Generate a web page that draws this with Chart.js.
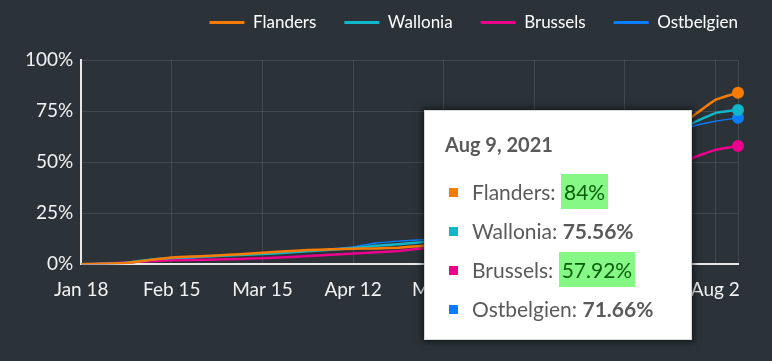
<!DOCTYPE html>
<html>
<head>
<meta charset="utf-8">
<script src="https://cdn.jsdelivr.net/npm/chart.js@4.4.0/dist/chart.umd.min.js"></script>
<style>
  html, body { margin: 0; padding: 0; background: #2b3339; }
  #wrap { position: relative; width: 772px; height: 361px; }
  #tip {
    position: absolute; left: 424px; top: 110px; width: 268px; height: 230px;
    box-sizing: border-box; background: #fff; border: 1px solid #d8d8d8;
    box-shadow: 0 0 6px 2px rgba(0,0,0,0.55);
    font-family: Lato, sans-serif; color: #5a5a5a;
    padding: 21px 0 0 20px; display: none;
  }
  #tip .ttl { font-size: 20px; font-weight: bold; line-height: 24px; margin-bottom: 16px; }
  #tip .row { font-size: 21px; line-height: 39px; height: 39px; padding-left: 4px; white-space: nowrap; }
  #tip .sq { display: inline-block; width: 9px; height: 9px; margin-right: 14px; vertical-align: 3px; }
  #tip .val { font-weight: bold; }
  #tip .hl { font-weight: normal; color: #0b5e0b; background: #86f886; padding: 5px 3px; }
</style>
</head>
<body>
<div id="wrap"><canvas id="chart"></canvas><div id="tip"></div></div>
<script>
// ── DATA ─────────────────────────────────────────
const weeks = ['Jan 18', 'Jan 25', 'Feb 1', 'Feb 8', 'Feb 15', 'Feb 22', 'Mar 1', 'Mar 8',
  'Mar 15', 'Mar 22', 'Mar 29', 'Apr 5', 'Apr 12', 'Apr 19', 'Apr 26', 'May 3', 'May 10',
  'May 17', 'May 24', 'May 31', 'Jun 7', 'Jun 14', 'Jun 21', 'Jun 28', 'Jul 5', 'Jul 12',
  'Jul 19', 'Jul 26', 'Aug 2', 'Aug 9'];

const flanders   = [0, 0.2, 0.6, 2.0, 3.3, 3.8, 4.3, 4.9, 5.6, 6.3, 6.9, 7.3, 7.6, 7.7, 8.1, 8.9,
  10, 12, 15, 19, 24, 30, 37, 44, 51, 58, 65, 72.5, 80.5, 84];
const wallonia   = [0, 0.2, 0.7, 2.2, 3.0, 3.5, 4.0, 4.5, 5.0, 5.6, 6.4, 7.1, 7.9, 9.0, 9.8, 10.8,
  12, 13.5, 15, 17.5, 21, 26, 32, 39, 46, 53, 60, 69, 74, 75.56];
const brussels   = [0, 0.3, 0.8, 1.5, 1.9, 2.1, 2.3, 2.6, 2.9, 3.4, 4.0, 4.6, 5.2, 5.8, 6.5, 7.7,
  8.5, 9.5, 11, 12.5, 14.5, 17.5, 21.5, 27, 33, 39, 45, 52, 56, 57.92];
const ostbelgien = [0, 0.1, 0.5, 1.6, 2.4, 3.2, 3.9, 4.6, 5.2, 5.8, 6.6, 7.4, 8.4, 10.4, 11.3, 12.0,
  13, 14, 16, 18, 21, 26, 32, 39, 46, 53, 60, 67.5, 70, 71.66];

const yTicks = [0, 25, 50, 75, 100];
const highlighted = ['Flanders', 'Brussels'];

// ── STYLE ────────────────────────────────────────
const LAST = weeks.length - 1;
const GRID = 'rgba(255,255,255,0.11)';
Chart.defaults.font.family = 'Lato, sans-serif';
Chart.defaults.color = '#f2f2f2';

function series(label, data, color, width) {
  return {
    label, data,
    borderColor: color,
    backgroundColor: color,
    borderWidth: width,
    pointRadius: ctx => ctx.dataIndex === LAST ? 6 : 0,
    pointBorderWidth: 0,
    pointHoverRadius: 6,
    tension: 0.1,
    fill: false,
  };
}

// ── TOOLTIP ──────────────────────────────────────
function renderTooltip({ tooltip }) {
  const el = document.getElementById('tip');
  if (tooltip.opacity === 0 || !tooltip.dataPoints) { el.style.display = 'none'; return; }
  const rows = tooltip.dataPoints.map(p => {
    const name = p.dataset.label;
    const cls = highlighted.includes(name) ? 'val hl' : 'val';
    return `<div class="row"><span class="sq" style="background:${p.dataset.borderColor}"></span>${name}: <span class="${cls}">${p.raw}%</span></div>`;
  }).join('');
  el.innerHTML = `<div class="ttl">${tooltip.title[0]}</div>${rows}`;
  el.style.display = 'block';
}

// pushes the plot down below the legend, and drops the trailing item gap on the right
const legendSpacing = {
  id: 'legendSpacing',
  beforeInit(chart) {
    const fit = chart.legend.fit;
    chart.legend.fit = function () {
      fit.call(this);
      this.height += 19;
    };
  },
  afterLayout(chart) {
    chart.legend.right += chart.legend.options.labels.padding;
  }
};

// ── CHART ────────────────────────────────────────
const chart = new Chart(document.getElementById('chart'), {
  type: 'line',
  data: {
    labels: weeks,
    datasets: [
      series('Flanders', flanders, '#f57c00', 2.5),
      series('Wallonia', wallonia, '#10b6c9', 2.5),
      series('Brussels', brussels, '#ec008c', 2.5),
      series('Ostbelgien', ostbelgien, '#0a7cff', 1.5),
    ],
  },
  options: {
    responsive: true,
    maintainAspectRatio: false,
    animation: false,
    events: [],
    layout: { padding: { top: -14, right: 34, bottom: 46, left: 17 } },
    plugins: {
      legend: {
        position: 'top',
        align: 'end',
        labels: {
          color: '#ffffff',
          font: { size: 17 },
          boxWidth: 35,
          boxHeight: 3,
          padding: 28,
          generateLabels: c => Chart.defaults.plugins.legend.labels.generateLabels(c)
            .map(item => ({ ...item, lineWidth: 0 })),
        },
      },
      tooltip: {
        enabled: false,
        mode: 'index',
        intersect: false,
        external: renderTooltip,
        callbacks: { title: items => items[0].label + ', 2021' },
      },
    },
    scales: {
      x: {
        offset: false,
        border: { color: '#e8e8e8', width: 2 },
        grid: {
          drawTicks: false,
          color: ctx => (ctx.index % 4 === 0 || ctx.index === LAST) ? GRID : 'transparent',
        },
        ticks: {
          autoSkip: false,
          maxRotation: 0,
          padding: 14,
          font: { size: 19 },
          color: '#f2f2f2',
          callback: (v, i) => (i % 4 === 0 && i !== LAST) ? weeks[i] : '',
        },
      },
      y: {
        min: 0,
        max: 100,
        border: { color: '#e8e8e8', width: 2 },
        grid: { drawTicks: false, color: GRID },
        afterBuildTicks: axis => { axis.ticks = yTicks.map(v => ({ value: v })); },
        ticks: {
          padding: 8,
          font: { size: 19 },
          color: '#f2f2f2',
          callback: v => v + '%',
        },
      },
    },
  },
  plugins: [legendSpacing],
});

// show the tooltip for the last week
chart.tooltip.setActiveElements(
  chart.data.datasets.map((_, i) => ({ datasetIndex: i, index: LAST })),
  { x: 0, y: 0 }
);
chart.update();
</script>
</body>
</html>
